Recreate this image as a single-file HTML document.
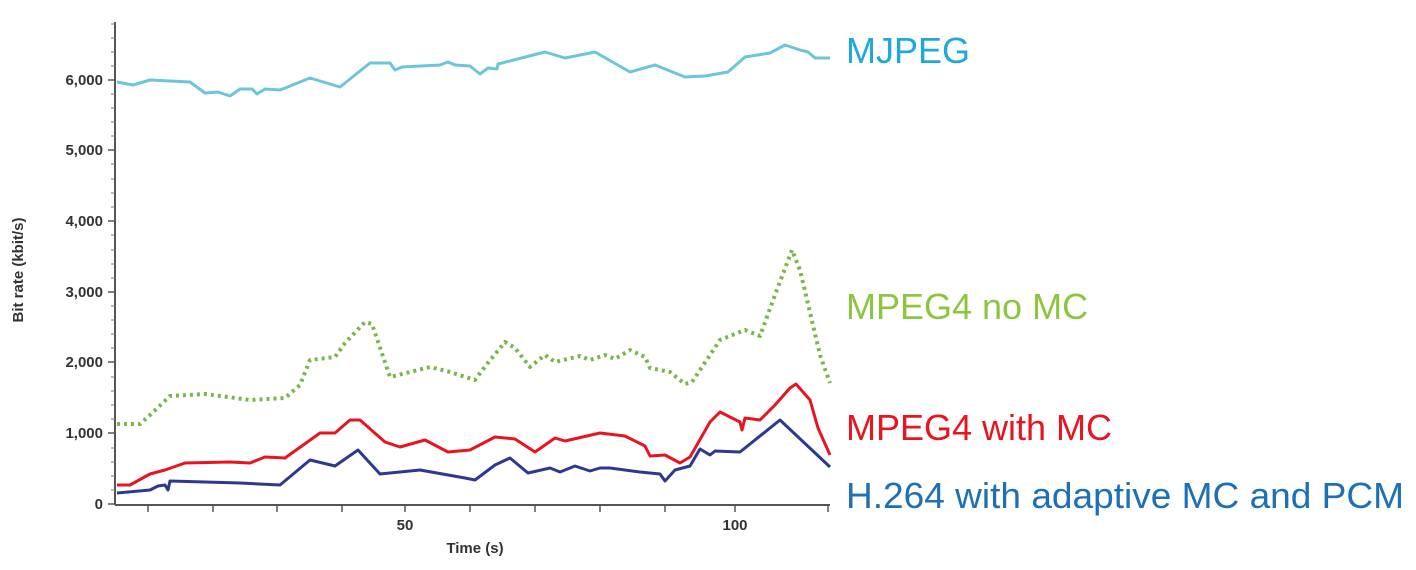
<!DOCTYPE html>
<html><head><meta charset="utf-8"><style>
html,body{margin:0;padding:0;background:#fff;}
svg{display:block;}
</style></head><body>
<svg width="1416" height="570" viewBox="0 0 1416 570" xmlns="http://www.w3.org/2000/svg" font-family="Liberation Sans, sans-serif">
<g stroke="#555" stroke-width="2">
<line x1="115" y1="22" x2="115" y2="505"/>
<line x1="115" y1="505" x2="830" y2="505"/>
</g>
<g stroke="#555" stroke-width="1.5">
<line x1="108" y1="504" x2="115" y2="504"/><line x1="108" y1="433" x2="115" y2="433"/><line x1="108" y1="362" x2="115" y2="362"/><line x1="108" y1="292" x2="115" y2="292"/><line x1="108" y1="221" x2="115" y2="221"/><line x1="108" y1="150" x2="115" y2="150"/><line x1="108" y1="80" x2="115" y2="80"/>
<line x1="148" y1="505" x2="148" y2="512"/><line x1="213" y1="505" x2="213" y2="512"/><line x1="277" y1="505" x2="277" y2="512"/><line x1="342" y1="505" x2="342" y2="512"/><line x1="405" y1="505" x2="405" y2="512"/><line x1="470" y1="505" x2="470" y2="512"/><line x1="535" y1="505" x2="535" y2="512"/><line x1="600" y1="505" x2="600" y2="512"/><line x1="665" y1="505" x2="665" y2="512"/><line x1="735" y1="505" x2="735" y2="512"/><line x1="828" y1="505" x2="828" y2="512"/>
</g>
<g stroke="#777" stroke-width="1">
<path d="M111 490H115M111 476H115M111 462H115M111 448H115M111 419H115M111 405H115M111 391H115M111 377H115M111 348H115M111 334H115M111 320H115M111 306H115M111 278H115M111 264H115M111 250H115M111 235H115M111 207H115M111 193H115M111 179H115M111 164H115M111 136H115M111 122H115M111 108H115M111 94H115M111 66H115M111 52H115M111 38H115M111 24H115"/>
</g>
<g fill="#333" font-size="15" font-weight="bold" text-anchor="end">
<text x="103" y="509">0</text><text x="103" y="438">1,000</text><text x="103" y="367">2,000</text><text x="103" y="297">3,000</text><text x="103" y="226">4,000</text><text x="103" y="155">5,000</text><text x="103" y="85">6,000</text>
</g>
<g fill="#333" font-size="15" font-weight="bold" text-anchor="middle">
<text x="405" y="530">50</text><text x="735" y="530">100</text>
<text x="475" y="553">Time (s)</text>
<text transform="translate(23,270) rotate(-90)">Bit rate (kbit/s)</text>
</g>
<g fill="none" stroke-linejoin="round">
<polyline stroke="#6cc5d8" stroke-width="3" points="117,82 133,85 150,80 190,82 205,93 218,92 230,96 240,89 252,89 257,94 265,89 280,90 310,78 340,87 370,63 390,63 395,70 402,67 440,65 448,62 455,65 470,66 480,74 488,68 497,69 498,64 545,52 565,58 595,52 630,72 655,65 685,77 705,76 728,72 745,57 770,53 785,45 800,50 808,52 815,58 830,58"/>
<polyline stroke="#7ab648" stroke-width="4" stroke-dasharray="3,4" points="117,424 140,424 150,415 170,396 205,394 250,400 285,398 300,385 310,360 335,357 345,343 365,322 372,324 390,377 430,367 450,372 475,380 487,364 505,342 515,348 530,367 545,355 555,362 580,356 590,360 605,355 615,359 630,350 645,357 650,368 670,372 685,384 692,382 720,340 745,330 760,336 775,295 792,250 800,270 820,355 830,383"/>
<polyline stroke="#e8141e" stroke-width="3" points="117,485 130,485 150,474 165,470 185,463 230,462 250,463 265,457 285,458 320,433 335,433 350,420 360,420 385,442 400,447 425,440 448,452 470,450 495,437 515,439 535,452 555,438 565,441 600,433 625,436 645,446 650,456 665,455 680,463 690,457 710,422 720,412 740,422 742,430 745,418 760,420 775,405 790,388 796,384 810,400 818,428 830,455"/>
<polyline stroke="#2b3990" stroke-width="3" points="117,493 150,490 158,486 165,485 168,490 170,481 240,483 280,485 310,460 335,466 358,450 380,474 400,472 420,470 465,478 475,480 495,465 510,458 528,473 550,468 560,472 575,466 590,471 600,468 610,468 640,472 660,474 665,481 675,470 690,466 700,449 710,455 715,451 740,452 780,420 830,467"/>
</g>
<g font-size="36">
<text x="846" y="63" fill="#1ea8e0">MJPEG</text>
<text x="846" y="319" fill="#8cc63f">MPEG4 no MC</text>
<text x="846" y="440" fill="#e8141e">MPEG4 with MC</text>
<text x="846" y="508" fill="#1d6fb8" textLength="558" lengthAdjust="spacingAndGlyphs">H.264 with adaptive MC and PCM</text>
</g>
</svg>
</body></html>
